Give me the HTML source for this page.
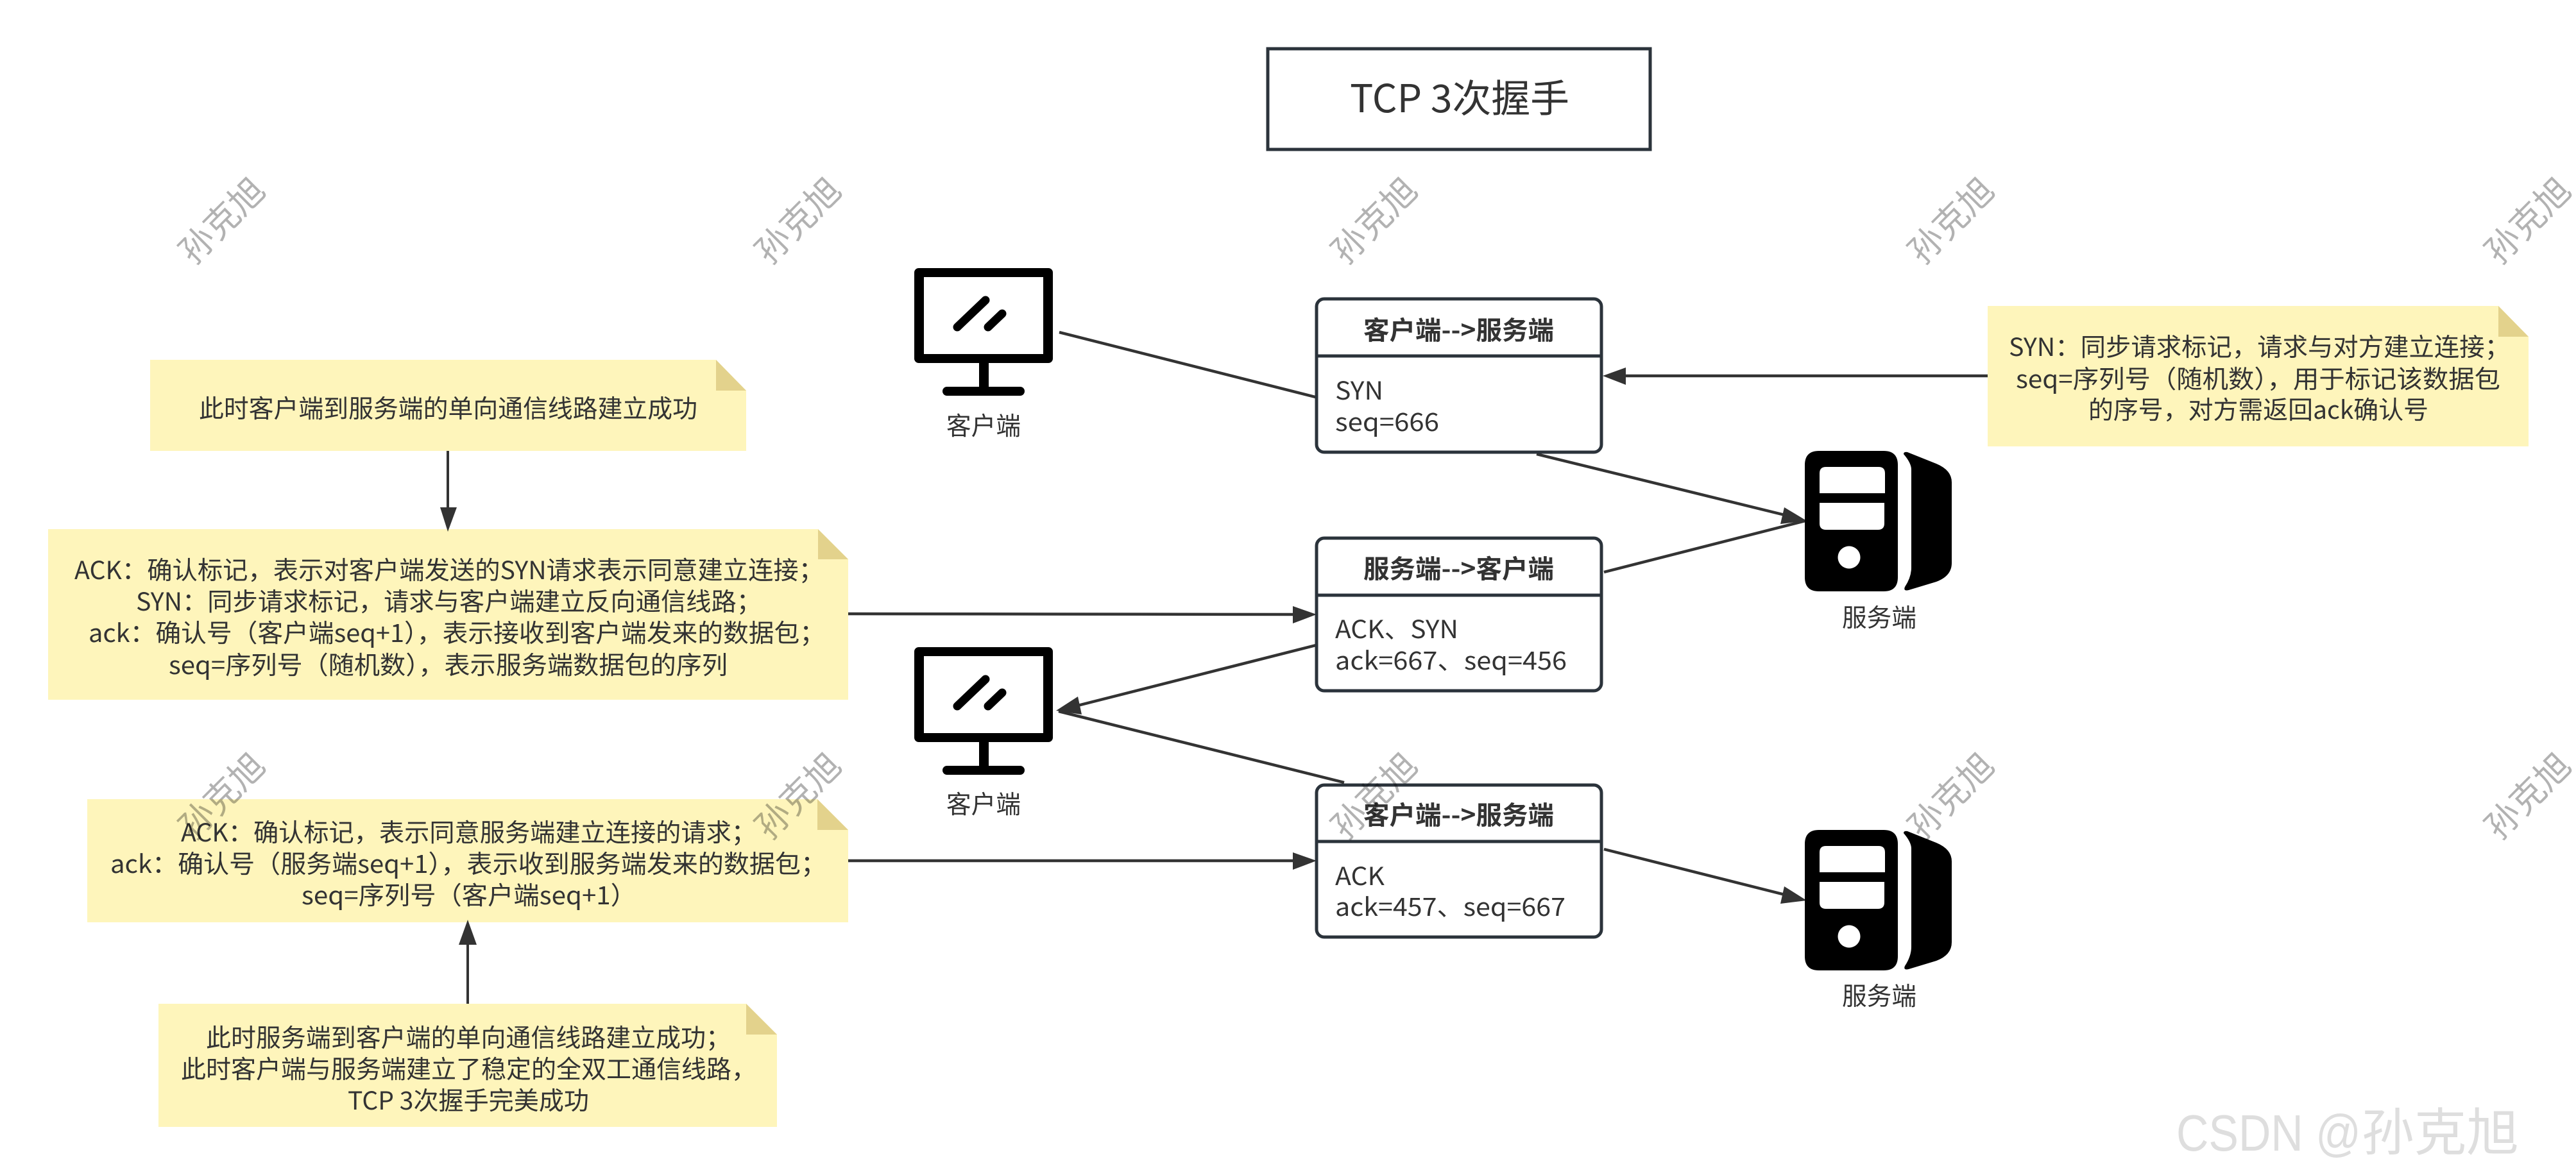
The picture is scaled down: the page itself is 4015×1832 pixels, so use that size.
<!DOCTYPE html>
<html><head><meta charset="utf-8"><style>
html,body{margin:0;padding:0;background:#fff}
svg{display:block}
text{font-family:"Noto Sans CJK SC","Liberation Sans",sans-serif;fill:#333;font-size:39px}
.b{font-weight:700;font-size:40px}
.wm{font-size:54px;fill:#000;fill-opacity:.3;font-weight:400}
.l{stroke:#333;stroke-width:4.5;fill:none}
.v{stroke:#333;stroke-width:4;fill:none}
.h{fill:#333}
.n{fill:#fef5bb}
.f{fill:#e3d28c}
.bx{fill:#fff;stroke:#2b333b;stroke-width:5}
</style></head><body>
<svg width="4015" height="1832" viewBox="0 0 4015 1832" xmlns="http://www.w3.org/2000/svg">
<defs>
<g id="mon">
<rect x="1425" y="418" width="216" height="148" rx="7" fill="#000"/>
<rect x="1440" y="432" width="186" height="120" fill="#fff"/>
<rect x="1526" y="560" width="15" height="48" fill="#000"/>
<rect x="1469" y="603" width="128" height="14" rx="7" fill="#000"/>
<line x1="1536" y1="468" x2="1492" y2="510" stroke="#000" stroke-width="13" stroke-linecap="round"/>
<line x1="1562" y1="489" x2="1540" y2="510" stroke="#000" stroke-width="13" stroke-linecap="round"/>
</g>
<g id="srv">
<path fill="#000" fill-rule="evenodd" d="M2835 703H2936Q2958 703 2958 725V900Q2958 922 2936 922H2835Q2813 922 2813 900V725Q2813 703 2835 703ZM2846 728Q2836 728 2836 738V769H2938V738Q2938 728 2928 728ZM2836 784V816Q2836 826 2846 826H2927Q2937 826 2937 816V784ZM2882 851.5A17.5 17.5 0 1 0 2882.01 851.5Z"/>
<path fill="#000" d="M2967 708Q2967 704 2973 705L3018 723Q3042 733 3042 752V878Q3042 898 3018 907L2975 920Q2966 922 2969 915Q2979 900 2979 885V732Q2979 722 2967 708Z"/>
</g>
</defs>

<!-- connectors -->
<line class="l" x1="1651" y1="518" x2="2050" y2="619"/>
<line class="l" x1="2395" y1="708" x2="2790" y2="805"/>
<line class="l" x1="2500" y1="892" x2="2814" y2="812"/>
<line class="l" x1="1322" y1="957" x2="2020" y2="958"/>
<line class="l" x1="2051" y1="1006" x2="1680" y2="1100"/>
<line class="l" x1="2095" y1="1220" x2="1650" y2="1109"/>
<line class="l" x1="1322" y1="1342" x2="2020" y2="1342"/>
<line class="l" x1="2500" y1="1324" x2="2790" y2="1397"/>
<line class="l" x1="3098" y1="586" x2="2530" y2="586"/>
<line class="v" x1="698" y1="703" x2="698" y2="795"/>
<line class="v" x1="729" y1="1565" x2="729" y2="1470"/>

<!-- notes -->
<rect class="n" x="234" y="561" width="929" height="142"/>
<polygon fill="#fff" points="1116,561 1163,561 1163,609"/><polygon class="f" points="1116,561 1163,609 1116,609"/>
<rect class="n" x="75" y="825" width="1247" height="266"/>
<polygon fill="#fff" points="1275,825 1322,825 1322,872"/><polygon class="f" points="1275,825 1322,872 1275,872"/>
<rect class="n" x="136" y="1246" width="1186" height="192"/>
<polygon fill="#fff" points="1274,1246 1322,1246 1322,1294"/><polygon class="f" points="1274,1246 1322,1294 1274,1294"/>
<rect class="n" x="247" y="1565" width="964" height="192"/>
<polygon fill="#fff" points="1163,1565 1211,1565 1211,1613"/><polygon class="f" points="1163,1565 1211,1613 1163,1613"/>
<rect class="n" x="3098" y="477" width="843" height="219"/>
<polygon fill="#fff" points="3894,477 3941,477 3941,525"/><polygon class="f" points="3894,477 3941,525 3894,525"/>

<!-- arrowheads -->
<polygon class="h" points="698,829 686,791 712,791"/>
<polygon class="h" points="729,1434 715,1473 743,1473"/>
<polygon class="h" points="2052,958 2015,945 2015,972"/>
<polygon class="h" points="2052,1342 2015,1329 2015,1356"/>
<polygon class="h" points="2498,586 2534,573 2534,600"/>
<polygon class="h" points="1646,1108 1680,1086 1686,1114"/>
<polygon class="h" points="2816,812 2781,791 2775,817"/>
<polygon class="h" points="2816,1404 2781,1382 2775,1409"/>

<!-- title -->
<rect x="1976" y="76" width="596" height="157" fill="#fff" stroke="#2b333b" stroke-width="5"/>
<text x="2104" y="175" style="font-size:60px" textLength="342" lengthAdjust="spacingAndGlyphs">TCP 3次握手</text>

<!-- entities -->
<use href="#mon"/>
<use href="#mon" y="591"/>
<use href="#srv"/>
<use href="#srv" y="591"/>
<text x="1475" y="678" textLength="116" lengthAdjust="spacingAndGlyphs">客户端</text>
<text x="1475" y="1268" textLength="116" lengthAdjust="spacingAndGlyphs">客户端</text>
<text x="2871" y="977" textLength="116" lengthAdjust="spacingAndGlyphs">服务端</text>
<text x="2871" y="1567" textLength="116" lengthAdjust="spacingAndGlyphs">服务端</text>

<!-- boxes -->
<rect class="bx" x="2052" y="466" width="444" height="239" rx="12"/>
<line x1="2052" y1="555" x2="2496" y2="555" stroke="#2b333b" stroke-width="5"/>
<text class="b" x="2125" y="529" textLength="297" lengthAdjust="spacingAndGlyphs">客户端--&gt;服务端</text>
<text x="2081" y="623" textLength="75" lengthAdjust="spacingAndGlyphs">SYN</text>
<text x="2081" y="672" textLength="162" lengthAdjust="spacingAndGlyphs">seq=666</text>

<rect class="bx" x="2052" y="839" width="444" height="238" rx="12"/>
<line x1="2052" y1="928" x2="2496" y2="928" stroke="#2b333b" stroke-width="5"/>
<text class="b" x="2125" y="901" textLength="297" lengthAdjust="spacingAndGlyphs">服务端--&gt;客户端</text>
<text x="2081" y="995" textLength="192" lengthAdjust="spacingAndGlyphs">ACK、SYN</text>
<text x="2081" y="1044" textLength="361" lengthAdjust="spacingAndGlyphs">ack=667、seq=456</text>

<rect class="bx" x="2052" y="1224" width="444" height="237" rx="12"/>
<line x1="2052" y1="1312" x2="2496" y2="1312" stroke="#2b333b" stroke-width="5"/>
<text class="b" x="2125" y="1285" textLength="297" lengthAdjust="spacingAndGlyphs">客户端--&gt;服务端</text>
<text x="2081" y="1380" textLength="77" lengthAdjust="spacingAndGlyphs">ACK</text>
<text x="2081" y="1428" textLength="359" lengthAdjust="spacingAndGlyphs">ack=457、seq=667</text>

<!-- note text -->
<text x="310" y="651" textLength="777" lengthAdjust="spacingAndGlyphs">此时客户端到服务端的单向通信线路建立成功</text>

<text x="116" y="903" textLength="1168" lengthAdjust="spacingAndGlyphs">ACK：确认标记，表示对客户端发送的SYN请求表示同意建立连接；</text>
<text x="212" y="952" textLength="975" lengthAdjust="spacingAndGlyphs">SYN：同步请求标记，请求与客户端建立反向通信线路；</text>
<text x="138" y="1001" textLength="1148" lengthAdjust="spacingAndGlyphs">ack：确认号（客户端seq+1），表示接收到客户端发来的数据包；</text>
<text x="263" y="1051" textLength="871" lengthAdjust="spacingAndGlyphs">seq=序列号（随机数），表示服务端数据包的序列</text>

<text x="282" y="1312" textLength="897" lengthAdjust="spacingAndGlyphs">ACK：确认标记，表示同意服务端建立连接的请求；</text>
<text x="172" y="1361" textLength="1116" lengthAdjust="spacingAndGlyphs">ack：确认号（服务端seq+1），表示收到服务端发来的数据包；</text>
<text x="470" y="1410" textLength="522" lengthAdjust="spacingAndGlyphs">seq=序列号（客户端seq+1）</text>

<text x="321" y="1632" textLength="818" lengthAdjust="spacingAndGlyphs">此时服务端到客户端的单向通信线路建立成功；</text>
<text x="282" y="1681" textLength="897" lengthAdjust="spacingAndGlyphs">此时客户端与服务端建立了稳定的全双工通信线路，</text>
<text x="542" y="1730" textLength="376" lengthAdjust="spacingAndGlyphs">TCP 3次握手完美成功</text>

<text x="3131" y="555" textLength="781" lengthAdjust="spacingAndGlyphs">SYN：同步请求标记，请求与对方建立连接；</text>
<text x="3142" y="605" textLength="755" lengthAdjust="spacingAndGlyphs">seq=序列号（随机数），用于标记该数据包</text>
<text x="3255" y="653" textLength="530" lengthAdjust="spacingAndGlyphs">的序号，对方需返回ack确认号</text>

<!-- watermarks -->
<g>
<text class="wm" text-anchor="middle" transform="translate(346 344) rotate(-45) translate(0 19)">孙克旭</text>
<text class="wm" text-anchor="middle" transform="translate(1244 344) rotate(-45) translate(0 19)">孙克旭</text>
<text class="wm" text-anchor="middle" transform="translate(2142 344) rotate(-45) translate(0 19)">孙克旭</text>
<text class="wm" text-anchor="middle" transform="translate(3041 344) rotate(-45) translate(0 19)">孙克旭</text>
<text class="wm" text-anchor="middle" transform="translate(3940 344) rotate(-45) translate(0 19)">孙克旭</text>
<text class="wm" text-anchor="middle" transform="translate(346 1241) rotate(-45) translate(0 19)">孙克旭</text>
<text class="wm" text-anchor="middle" transform="translate(1244 1241) rotate(-45) translate(0 19)">孙克旭</text>
<text class="wm" text-anchor="middle" transform="translate(2142 1241) rotate(-45) translate(0 19)">孙克旭</text>
<text class="wm" text-anchor="middle" transform="translate(3041 1241) rotate(-45) translate(0 19)">孙克旭</text>
<text class="wm" text-anchor="middle" transform="translate(3940 1241) rotate(-45) translate(0 19)">孙克旭</text>
</g>

<!-- CSDN signature -->
<text x="3392" y="1794" style="font-family:'Liberation Sans',sans-serif;font-size:80px;fill:#dedede" textLength="288" lengthAdjust="spacingAndGlyphs">CSDN @</text>
<text x="3681" y="1794" style="font-size:80px;fill:#dedede" textLength="245" lengthAdjust="spacingAndGlyphs">孙克旭</text>
</svg>
</body></html>
